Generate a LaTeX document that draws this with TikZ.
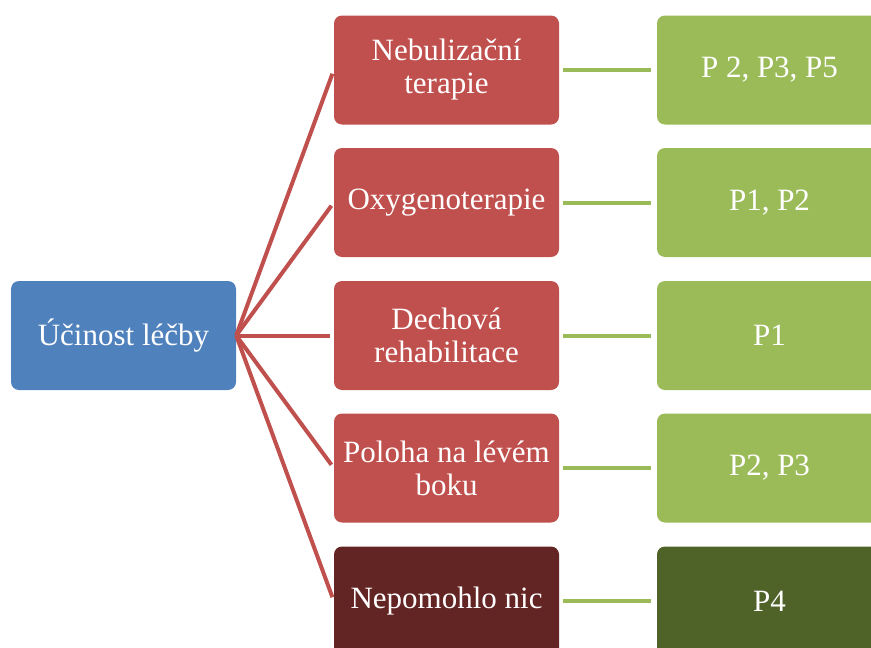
\documentclass[tikz,border=0pt]{standalone}
\usepackage{fontspec}
\setmainfont{Liberation Serif}
\definecolor{cblue}{HTML}{4F81BD}
\definecolor{cred}{HTML}{C0504D}
\definecolor{cgreen}{HTML}{9BBB59}
\definecolor{cdred}{HTML}{632523}
\definecolor{cdgreen}{HTML}{4F6228}
\tikzset{
  box/.style={rounded corners=8pt, minimum width=225pt, minimum height=109pt, inner sep=2pt,
    align=center, text=white, font=\fontsize{31}{33}\selectfont, draw=none},
  redlink/.style={draw=cred, line width=4pt, shorten >=4pt},
  greenlink/.style={draw=cgreen, line width=4pt, shorten <=4pt, shorten >=6pt},
}
\begin{document}
\begin{tikzpicture}[x=1pt,y=-1pt]
\path[use as bounding box] (0,0) rectangle (871,648);
\clip (0,0) rectangle (871,648);
\fill[white] (0,0) rectangle (871,648);
\node[box, fill=cblue] (b) at (123.5,335.5) {Účinost léčby};
\node[box, fill=cred] (r1) at (446.5,70) {Nebulizační\\terapie};
\node[box, fill=cred] (r2) at (446.5,202.5) {Oxygenoterapie};
\node[box, fill=cred] (r3) at (446.5,335.5) {Dechová\\rehabilitace};
\node[box, fill=cred] (r4) at (446.5,468) {Poloha na lévém\\boku};
\node[box, fill=cdred] (r5) at (446.5,601) {Nepomohlo nic};
\node[box, fill=cgreen] (g1) at (769.5,70) {P 2, P3, P5};
\node[box, fill=cgreen] (g2) at (769.5,202.5) {P1, P2};
\node[box, fill=cgreen] (g3) at (769.5,335.5) {P1};
\node[box, fill=cgreen] (g4) at (769.5,468) {P2, P3};
\node[box, fill=cdgreen] (g5) at (769.5,601) {P4};
\foreach \i in {1,...,5} {
  \draw[redlink] (b.east) -- (r\i.west);
  \draw[greenlink] (r\i.east) -- (g\i.west);
}
\end{tikzpicture}
\end{document}
